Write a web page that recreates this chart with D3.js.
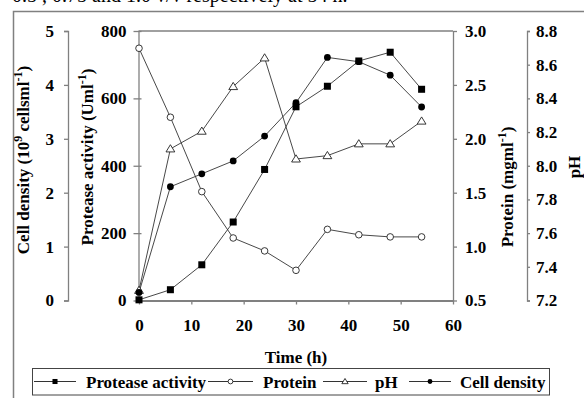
<!DOCTYPE html>
<html><head><meta charset="utf-8">
<script src="https://cdn.jsdelivr.net/npm/d3@7"></script>
<style>
html,body{margin:0;padding:0;background:#fff;}
svg{display:block;font-family:"Liberation Serif","Times New Roman",serif;}
</style></head>
<body>
<svg id="c" width="584" height="398"></svg>
<script>
const time = [0, 6, 12, 18, 24, 30, 36, 42, 48, 54];
const protease = [2, 32, 106, 233, 389, 575, 636, 711, 737, 627];
const protein = [2.84, 2.20, 1.51, 1.08, 0.96, 0.78, 1.16, 1.11, 1.09, 1.09];
const pH = [7.26, 8.10, 8.205, 8.47, 8.64, 8.04, 8.06, 8.13, 8.13, 8.265];
const cellDensity = [0.15, 2.11, 2.35, 2.59, 3.05, 3.67, 4.51, 4.43, 4.18, 3.59];
const xTicks = [0, 10, 20, 30, 40, 50, 60];
const proteaseTicks = [0, 200, 400, 600, 800];
const proteinTicks = [0.5, 1.0, 1.5, 2.0, 2.5, 3.0];
const pHTicks = [7.2, 7.4, 7.6, 7.8, 8.0, 8.2, 8.4, 8.6, 8.8];
const cellTicks = [0, 1, 2, 3, 4, 5];
const legendNames = ["Protease activity", "Protein", "pH", "Cell density"];

const svg = d3.select("#c");
const L = 138.5, R = 453, T = 31, B = 300.5;
const axisCol = "#808080";

// top cut-off text
svg.append("text").attr("x", 12).attr("y", 2).attr("font-size", 20)
  .attr("fill", "#000").text("0.5 , 0.75 and 1.0 v/v respectively at 54 h.");

// outer frame
svg.append("path").attr("d", "M13.5,398 V11.5 H584").attr("fill", "none")
  .attr("stroke", axisCol).attr("stroke-width", 1.5);

const x = d3.scaleLinear().domain([0, 60]).range([139, 453]);
const yP = d3.scaleLinear().domain([0, 800]).range([B, T]);
const yPr = d3.scaleLinear().domain([0.5, 3.0]).range([B, T]);
const yH = d3.scaleLinear().domain([7.2, 8.8]).range([B, T]);
const yC = d3.scaleLinear().domain([0, 5]).range([B, T]);

function styleAxis(g) {
  g.selectAll("path,line").attr("stroke", axisCol).attr("stroke-width", 1.3);
  g.selectAll("text").attr("font-size", 17).attr("font-weight", "bold")
    .attr("font-family", "Liberation Serif, serif").attr("fill", "#000");
}

// plot top border
svg.append("line").attr("x1", L).attr("x2", R).attr("y1", T).attr("y2", T)
  .attr("stroke", axisCol).attr("stroke-width", 1.3);

// x axis
const gx = svg.append("g").attr("transform", `translate(0,${B})`)
  .call(d3.axisBottom(x).tickValues(xTicks).tickSize(4).tickSizeOuter(0).tickPadding(14));
styleAxis(gx);
gx.select("path").attr("stroke-width", 2);

// protease axis (left inner)
const gp = svg.append("g").attr("transform", `translate(${L},0)`)
  .call(d3.axisLeft(yP).tickValues(proteaseTicks).tickSize(5).tickSizeOuter(0).tickPadding(7));
styleAxis(gp);
gp.selectAll(".tick line").attr("x2", 3).attr("x1", -5);

// cell density axis (left outer)
const gc = svg.append("g").attr("transform", `translate(68,0)`)
  .call(d3.axisLeft(yC).tickValues(cellTicks).tickFormat(d3.format("d")).tickSize(4).tickSizeOuter(4).tickPadding(10));
styleAxis(gc);

// protein axis (right inner)
const gr = svg.append("g").attr("transform", `translate(${R},0)`)
  .call(d3.axisRight(yPr).tickValues(proteinTicks).tickFormat(d3.format(".1f")).tickSize(4).tickSizeOuter(0).tickPadding(8));
styleAxis(gr);

// pH axis (right outer)
const gh = svg.append("g").attr("transform", `translate(527,0)`)
  .call(d3.axisRight(yH).tickValues(pHTicks).tickFormat(d3.format(".1f")).tickSize(3).tickSizeOuter(3).tickPadding(6));
styleAxis(gh);

// axis titles
function vtitle(cx, cy, parts) {
  const t = svg.append("text").attr("transform", `translate(${cx},${cy}) rotate(-90)`)
    .attr("text-anchor", "middle").attr("font-size", 17).attr("font-weight", "bold").attr("fill", "#000");
  parts.forEach(p => {
    const s = t.append("tspan").text(p[0]);
    if (p[1]) s.attr("baseline-shift", "super").attr("font-size", 12);
  });
}
vtitle(29, 160, [["Cell density (10"], ["9", true], [" cellsml"], ["-1", true], [")"]]);
vtitle(93, 157, [["Protease activity (Uml"], ["-1", true], [")"]]);
vtitle(513, 187, [["Protein (mgml"], ["-1", true], [")"]]);
vtitle(580, 167, [["pH"]]);

svg.append("text").attr("x", 296).attr("y", 363).attr("text-anchor", "middle")
  .attr("font-size", 17).attr("font-weight", "bold").text("Time (h)");

// series
const series = [
  { vals: protease, y: yP, m: "square" },
  { vals: protein, y: yPr, m: "open" },
  { vals: pH, y: yH, m: "tri" },
  { vals: cellDensity, y: yC, m: "dot" }
];
const lineCol = "#333";
function marker(g, type, cx, cy, s) {
  if (type === "square") g.append("rect").attr("x", cx - 3.5 * s).attr("y", cy - 3.5 * s)
    .attr("width", 7 * s).attr("height", 7 * s).attr("fill", "#000");
  else if (type === "open") g.append("circle").attr("cx", cx).attr("cy", cy).attr("r", 3.3 * s)
    .attr("fill", "#fff").attr("stroke", "#222").attr("stroke-width", 0.9);
  else if (type === "dot") g.append("circle").attr("cx", cx).attr("cy", cy).attr("r", 3.4 * s)
    .attr("fill", "#000");
  else if (type === "tri") g.append("path")
    .attr("d", `M${cx},${cy - 4.2 * s} L${cx + 4.4 * s},${cy + 3 * s} L${cx - 4.4 * s},${cy + 3 * s} Z`)
    .attr("fill", "#fff").attr("stroke", "#222").attr("stroke-width", 0.9);
}
series.forEach(s => {
  const line = d3.line().x((d, i) => x(time[i])).y(d => s.y(d));
  svg.append("path").datum(s.vals).attr("d", line).attr("fill", "none")
    .attr("stroke", lineCol).attr("stroke-width", 0.9);
});
series.forEach(s => {
  const g = svg.append("g");
  s.vals.forEach((v, i) => marker(g, s.m, x(time[i]), s.y(v), 1));
});

// legend
svg.append("rect").attr("x", 32.5).attr("y", 368.5).attr("width", 517).attr("height", 26.5)
  .attr("fill", "#fff").attr("stroke", "#444").attr("stroke-width", 1);
const legY = 381.5;
const legItems = [
  { l1: 34, l2: 76, tx: 86 },
  { l1: 208, l2: 253, tx: 263 },
  { l1: 323, l2: 367, tx: 375 },
  { l1: 409, l2: 451, tx: 460 }
];
legItems.forEach((it, i) => {
  const g = svg.append("g");
  g.append("line").attr("x1", it.l1).attr("x2", it.l2).attr("y1", legY).attr("y2", legY)
    .attr("stroke", lineCol).attr("stroke-width", 1);
  marker(g, series[i].m, (it.l1 + it.l2) / 2, legY, 0.72);
  g.append("text").attr("x", it.tx).attr("y", legY + 6).attr("font-size", 17)
    .attr("font-weight", "bold").text(legendNames[i]);
});
</script>
</body></html>
